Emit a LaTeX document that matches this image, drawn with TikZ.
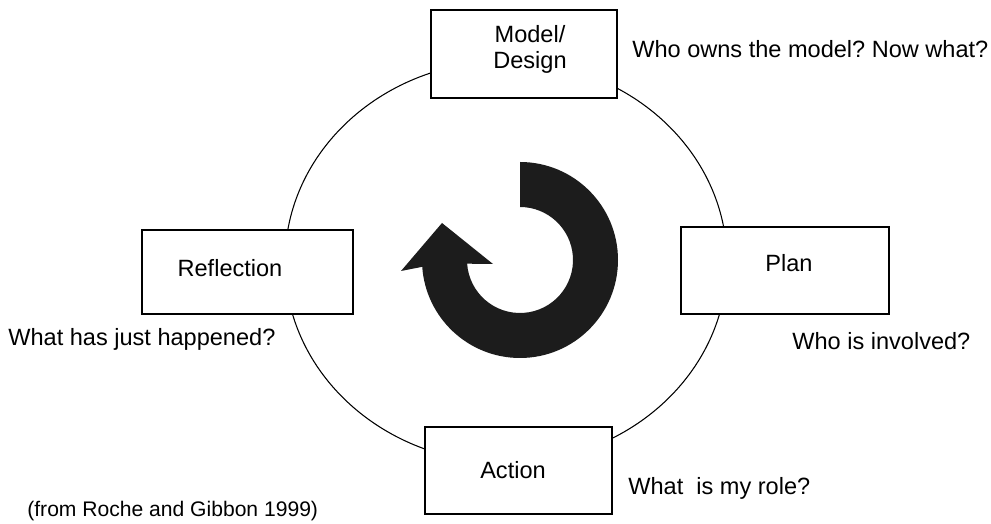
\documentclass[tikz,border=0pt]{standalone}
\usepackage{fontspec}
\setmainfont{Liberation Sans}
\usepackage{tikz}
\frenchspacing

\begin{document}
\begin{tikzpicture}[
    stage/.style={draw, line width=0.8pt, fill=white, inner sep=0pt},
    tag/.style={inner sep=0pt, align=center, font=\fontsize{13.4}{14.5}\selectfont},
    note/.style={anchor=west, inner sep=0pt, font=\fontsize{13.4}{14.5}\selectfont}
  ]
  \useasboundingbox (0,0) rectangle (19.82,10.48);

  % the cycle
  \draw [line width=0.6pt] (10.12,5.24) ellipse (4.42 and 4.02);

  % the four stages sit on the cycle
  \node [stage, minimum width=3.72cm, minimum height=1.76cm] (model) at (10.48,9.40) {};
  \node [stage, minimum width=4.16cm, minimum height=1.74cm] (plan) at (15.70,5.07) {};
  \node [stage, minimum width=3.74cm, minimum height=1.74cm] (action) at (10.37,1.07) {};
  \node [stage, minimum width=4.22cm, minimum height=1.68cm] (reflection) at (4.95,5.04) {};

  \node [tag] (modeltext) at (10.60,9.49) {Model/\\Design};
  \node [tag] (plantext) at (15.78,5.22) {Plan};
  \node [tag] (actiontext) at (10.26,1.08) {Action};
  \node [tag] (reflectiontext) at (4.60,5.12) {Reflection};

  % questions next to each stage
  \node [note] (q1) at (12.64,9.50) {Who owns the model? Now what?};
  \node [note] (q2) at (15.84,3.66) {Who is involved?};
  \node [note] (q3) at (12.56,0.72) {What\ \ is my role?};
  \node [note] (q4) at (0.16,3.70) {What has just happened?};

  \node [note, font=\fontsize{12}{14}\selectfont] (source) at (0.54,0.26) {(from Roche and Gibbon 1999)};

  % big turning arrow in the middle
  \coordinate (hub) at (10.40,5.28);
  \fill [black!89] ([shift={(90:1.96)}]hub) arc [start angle=90, end angle=-176, radius=1.96]
    -- (8.02,5.06) -- (8.84,6.02) -- (9.86,5.20)
    -- ([shift={(-176:1.06)}]hub) arc [start angle=-176, end angle=90, radius=1.06] -- cycle;
\end{tikzpicture}
\end{document}
